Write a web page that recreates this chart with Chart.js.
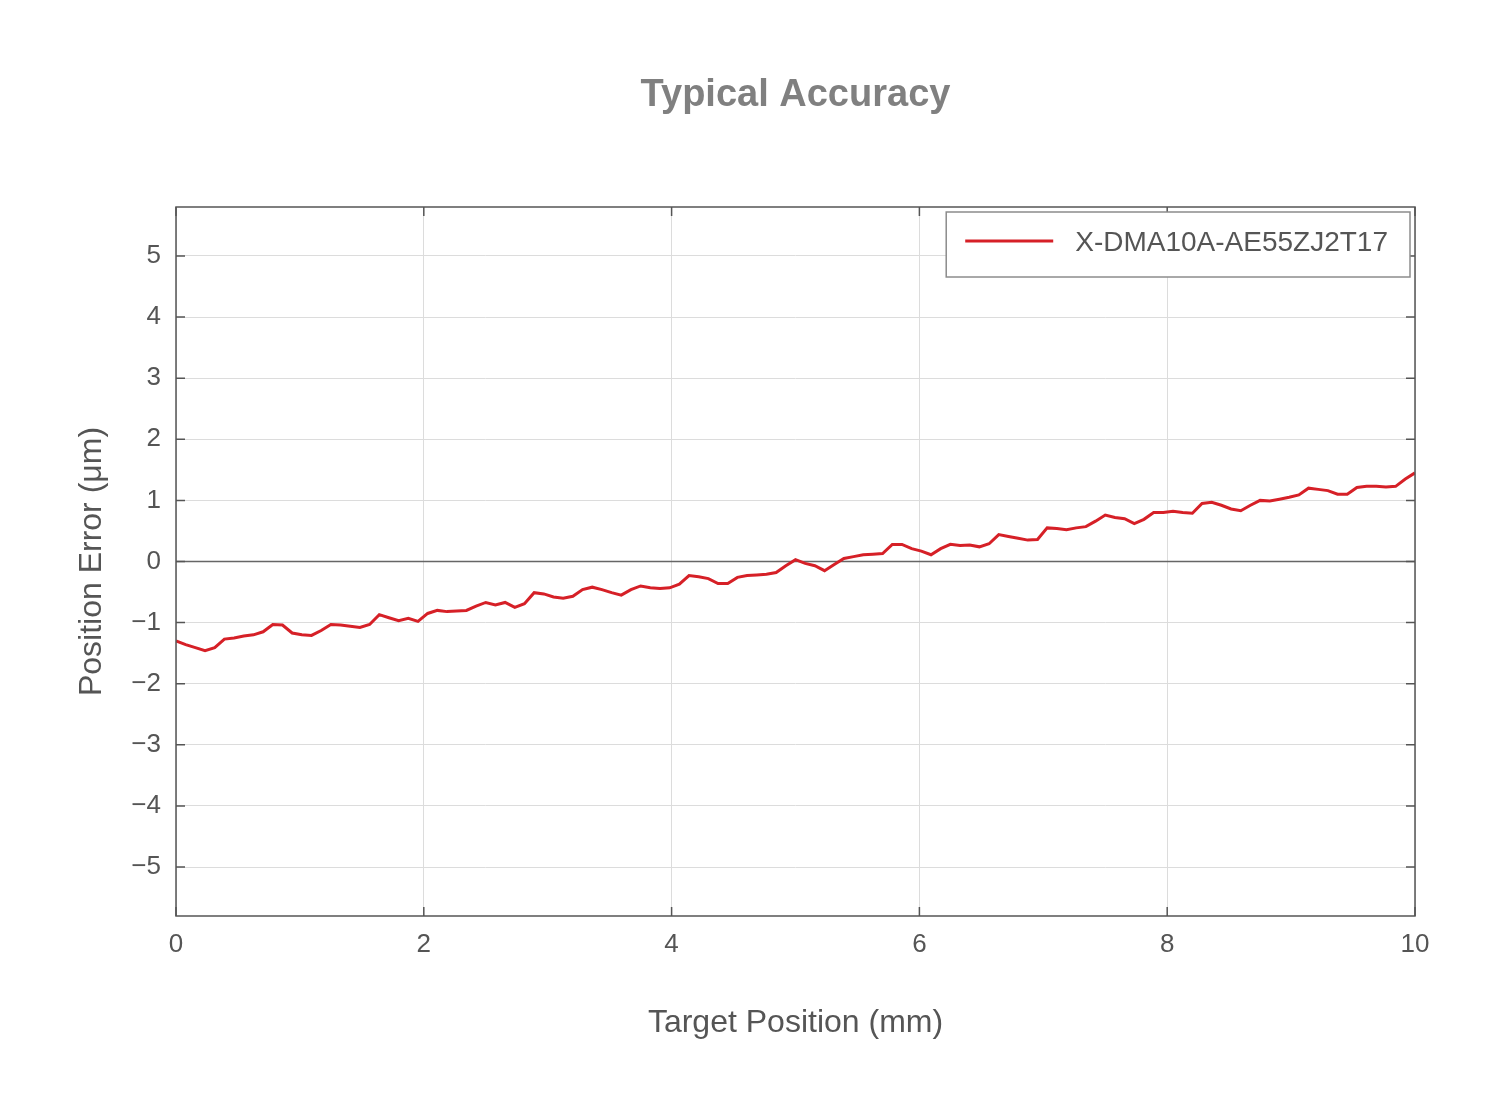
<!DOCTYPE html>
<html>
<head>
<meta charset="utf-8">
<title>Typical Accuracy</title>
<script src="https://cdn.jsdelivr.net/npm/chart.js@4.4.1/dist/chart.umd.min.js"></script>
<style>
  html, body { margin: 0; padding: 0; background: #ffffff; }
  canvas { display: block; }
</style>
</head>
<body>
<canvas id="accuracyChart" width="1508" height="1115"></canvas>
<script>
// Measured position error (um), one reading every 10/128 mm from 0 to 10 mm
const positionError = [
    -1.30, -1.36, -1.41, -1.46, -1.41, -1.27, -1.25, -1.22, -1.20, -1.15, -1.03, -1.04, -1.17, -1.20, -1.21, -1.13,
    -1.03, -1.04, -1.06, -1.08, -1.03, -0.87, -0.92, -0.97, -0.93, -0.98, -0.85, -0.80, -0.82, -0.81, -0.80, -0.73,
    -0.67, -0.71, -0.67, -0.75, -0.69, -0.51, -0.53, -0.58, -0.60, -0.57, -0.46, -0.42, -0.46, -0.51, -0.55, -0.46,
    -0.40, -0.43, -0.44, -0.43, -0.37, -0.23, -0.25, -0.28, -0.36, -0.36, -0.26, -0.23, -0.22, -0.21, -0.18, -0.07,
    0.03, -0.03, -0.07, -0.15, -0.05, 0.05, 0.08, 0.11, 0.12, 0.13, 0.28, 0.28, 0.21, 0.17, 0.11, 0.21,
    0.28, 0.26, 0.27, 0.24, 0.29, 0.44, 0.41, 0.38, 0.35, 0.36, 0.55, 0.54, 0.52, 0.55, 0.57, 0.66,
    0.76, 0.72, 0.70, 0.62, 0.69, 0.80, 0.80, 0.82, 0.80, 0.79, 0.95, 0.97, 0.92, 0.86, 0.83, 0.92,
    1.00, 0.99, 1.02, 1.05, 1.09, 1.20, 1.18, 1.16, 1.10, 1.10, 1.21, 1.23, 1.23, 1.22, 1.23, 1.35,
    1.45
];
const positionStep = 10 / 128;   // mm between target positions
const targetPosition = positionError.map((_, i) => i * positionStep);

const xTicks = [0, 2, 4, 6, 8, 10];
const yTicks = [-5, -4, -3, -2, -1, 0, 1, 2, 3, 4, 5];
const seriesLabel = 'X-DMA10A-AE55ZJ2T17';

const lineColor = '#d62027';
const textColor = '#555555';
const frameColor = '#555555';
const gridColor = '#dcdcdc';
const fontFamily = '"Liberation Sans", Arial, Helvetica, sans-serif';

// Frame, inward ticks, zero line, title and boxed legend
const decorPlugin = {
    id: 'decor',
    beforeDatasetsDraw(chart) {
        const ctx = chart.ctx;
        const area = chart.chartArea;
        const y0 = chart.scales.y.getPixelForValue(0);
        ctx.save();
        ctx.strokeStyle = '#666666';
        ctx.lineWidth = 1.5;
        ctx.beginPath();
        ctx.moveTo(area.left, y0);
        ctx.lineTo(area.right, y0);
        ctx.stroke();
        ctx.restore();
    },
    afterDraw(chart) {
        const ctx = chart.ctx;
        const area = chart.chartArea;
        const xs = chart.scales.x;
        const ys = chart.scales.y;
        const tickLen = 9;

        ctx.save();
        ctx.strokeStyle = frameColor;
        ctx.lineWidth = 1.5;
        ctx.strokeRect(area.left, area.top, area.right - area.left, area.bottom - area.top);

        ctx.beginPath();
        xTicks.forEach(v => {
            const px = xs.getPixelForValue(v);
            ctx.moveTo(px, area.bottom);
            ctx.lineTo(px, area.bottom - tickLen);
            ctx.moveTo(px, area.top);
            ctx.lineTo(px, area.top + tickLen);
        });
        yTicks.forEach(v => {
            const py = ys.getPixelForValue(v);
            ctx.moveTo(area.left, py);
            ctx.lineTo(area.left + tickLen, py);
            ctx.moveTo(area.right, py);
            ctx.lineTo(area.right - tickLen, py);
        });
        ctx.stroke();

        // title
        ctx.fillStyle = '#808080';
        ctx.font = 'bold 38px ' + fontFamily;
        ctx.textAlign = 'center';
        ctx.textBaseline = 'middle';
        ctx.fillText('Typical Accuracy', (area.left + area.right) / 2, 96);

        // legend
        const ds = chart.data.datasets[0];
        ctx.font = '28px ' + fontFamily;
        const textW = ctx.measureText(ds.label).width;
        const boxW = 19 + 88 + 22 + textW + 22;
        const boxH = 65;
        const boxX = area.right - 5 - boxW;
        const boxY = area.top + 5;
        ctx.fillStyle = '#ffffff';
        ctx.fillRect(boxX, boxY, boxW, boxH);
        ctx.strokeStyle = '#8c8c8c';
        ctx.lineWidth = 1.5;
        ctx.strokeRect(boxX, boxY, boxW, boxH);
        ctx.strokeStyle = ds.borderColor;
        ctx.lineWidth = 3;
        ctx.beginPath();
        ctx.moveTo(boxX + 19, boxY + 29);
        ctx.lineTo(boxX + 107, boxY + 29);
        ctx.stroke();
        ctx.fillStyle = textColor;
        ctx.textAlign = 'left';
        ctx.textBaseline = 'middle';
        ctx.fillText(ds.label, boxX + 129, boxY + 31);
        ctx.restore();
    }
};

function initChart() {
    const ctx = document.getElementById('accuracyChart').getContext('2d');
    new Chart(ctx, {
        type: 'line',
        data: {
            datasets: [{
                label: seriesLabel,
                data: targetPosition.map((x, i) => ({ x: x, y: positionError[i] })),
                borderColor: lineColor,
                borderWidth: 3,
                pointRadius: 0,
                tension: 0,
                fill: false
            }]
        },
        options: {
            responsive: false,
            animation: false,
            devicePixelRatio: 1,
            layout: { padding: { top: 207, right: 93, left: 0, bottom: 0 } },
            plugins: {
                legend: { display: false },
                title: { display: false },
                tooltip: { enabled: false }
            },
            scales: {
                x: {
                    type: 'linear',
                    min: 0,
                    max: 10,
                    afterBuildTicks: s => { s.ticks = xTicks.map(v => ({ value: v })); },
                    afterFit: s => { s.height = 199; },
                    grid: { color: gridColor, lineWidth: 1, drawTicks: false },
                    border: { display: false },
                    ticks: {
                        padding: 13,
                        maxRotation: 0,
                        color: textColor,
                        font: { family: fontFamily, size: 26 }
                    },
                    title: {
                        display: true,
                        text: 'Target Position (mm)',
                        color: textColor,
                        font: { family: fontFamily, size: 32 },
                        padding: { top: 0, bottom: 73 }
                    }
                },
                y: {
                    type: 'linear',
                    min: -5.8,
                    max: 5.8,
                    afterBuildTicks: s => { s.ticks = yTicks.map(v => ({ value: v })); },
                    afterFit: s => { s.width = 176; },
                    grid: { color: gridColor, lineWidth: 1, drawTicks: false },
                    border: { display: false },
                    ticks: {
                        padding: 15,
                        color: textColor,
                        font: { family: fontFamily, size: 26 },
                        callback: v => (v < 0 ? '\u2212' + Math.abs(v) : String(v))
                    },
                    title: {
                        display: true,
                        text: 'Position Error (\u03bcm)',
                        color: textColor,
                        font: { family: fontFamily, size: 32 },
                        padding: { top: 73, bottom: 0 }
                    }
                }
            }
        },
        plugins: [decorPlugin]
    });
}

document.addEventListener('DOMContentLoaded', initChart);
</script>
</body>
</html>
